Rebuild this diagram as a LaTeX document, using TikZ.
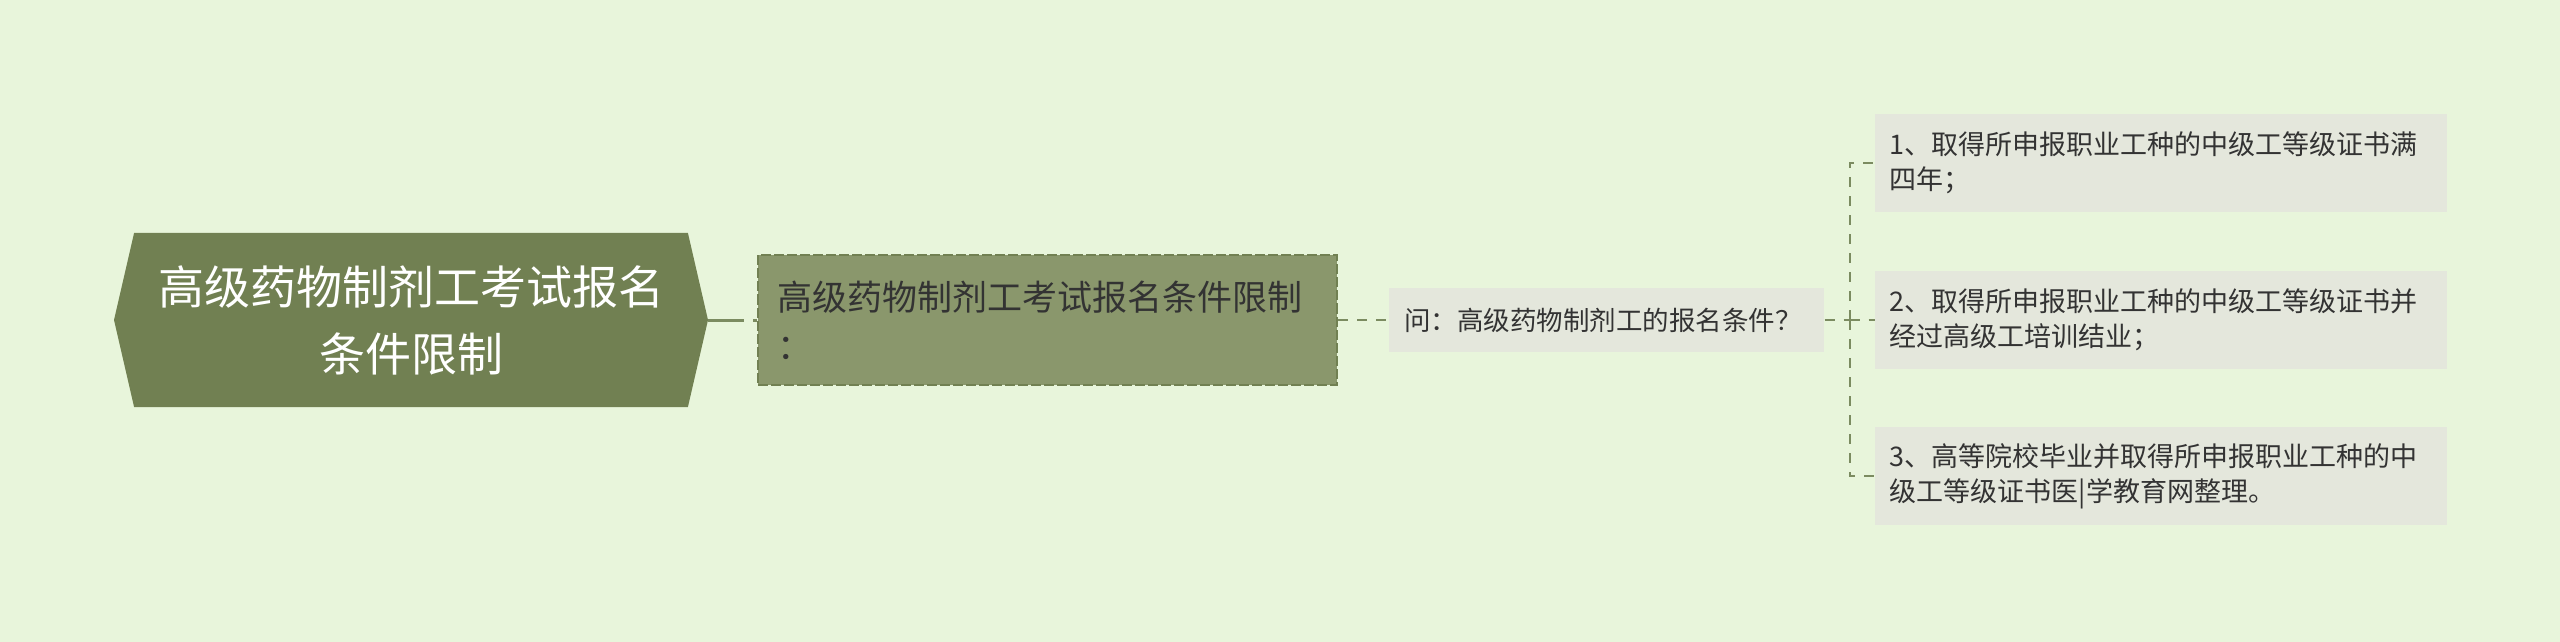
\documentclass[tikz,border=0pt]{standalone}
\usepackage{fontspec}
\newfontfamily\cjk{Noto Sans CJK SC}
\usetikzlibrary{shapes.symbols, positioning}
\definecolor{bgcol}{HTML}{E8F5DB}
\definecolor{rootcol}{HTML}{718052}
\definecolor{subcol}{HTML}{8A976C}
\definecolor{leafcol}{HTML}{E4E7DC}
\definecolor{linecol}{HTML}{7B8B60}
\definecolor{txtcol}{HTML}{333333}
\tikzstyle{topic} = [signal, signal to=west and east, signal pointer angle=154, minimum width=594pt, minimum height=174pt, fill=rootcol, text=white, align=center, font=\cjk\fontsize{46}{67}\selectfont]
\tikzstyle{subtopic} = [rectangle, minimum width=579pt, minimum height=129pt, inner xsep=19pt, text width=541pt, align=left, fill=subcol, draw=rootcol, line width=2pt, dash pattern=on 10pt off 3pt, text=txtcol, font=\cjk\fontsize{35}{49}\selectfont]
\tikzstyle{question} = [rectangle, minimum width=435pt, minimum height=64pt, inner xsep=15pt, text width=405pt, align=left, fill=leafcol, text=txtcol, font=\cjk\fontsize{26.5}{34}\selectfont]
\tikzstyle{answer} = [rectangle, minimum width=572pt, minimum height=98pt, inner xsep=15pt, text width=542pt, align=left, fill=leafcol, text=txtcol, font=\cjk\fontsize{27}{35}\selectfont]
\tikzstyle{link} = [linecol, line width=2pt, dash pattern=on 10pt off 9pt]
\tikzstyle{mainlink} = [linecol, line width=3pt, dash pattern=on 36pt off 9pt]

\begin{document}
\begin{tikzpicture}[x=1pt, y=1pt]
		\useasboundingbox (0,0) rectangle (2560,641);
		\fill[bgcol] (-5,-5) rectangle (2565,646);
		\node(root) [topic] at (411,321) {高级药物制剂工考试报名\\条件限制};
		\node(sub) [subtopic, right=49pt of root] {高级药物制剂工考试报名条件限制\\：};
		\node(q) [question, right=51pt of sub] {问：高级药物制剂工的报名条件？};
		\node(a2) [answer, right=50pt of q] {2、取得所申报职业工种的中级工等级证书并\\经过高级工培训结业；};
		\node(a1) [answer, above=59pt of a2] {1、取得所申报职业工种的中级工等级证书满\\四年；};
		\node(a3) [answer, below=58pt of a2] {3、高等院校毕业并取得所申报职业工种的中\\级工等级证书医|学教育网整理。};
		\coordinate(jn) at ([xshift=25pt]q.east);
		\draw [mainlink] (root.east) -- (sub.west);
		\draw [link] (sub.east) -- (q.west);
		\draw [link] (q.east) -- (jn);
		\foreach \i in {1,2,3}
			\draw [link] (jn) |- (a\i.west);
	\end{tikzpicture}
\end{document}
